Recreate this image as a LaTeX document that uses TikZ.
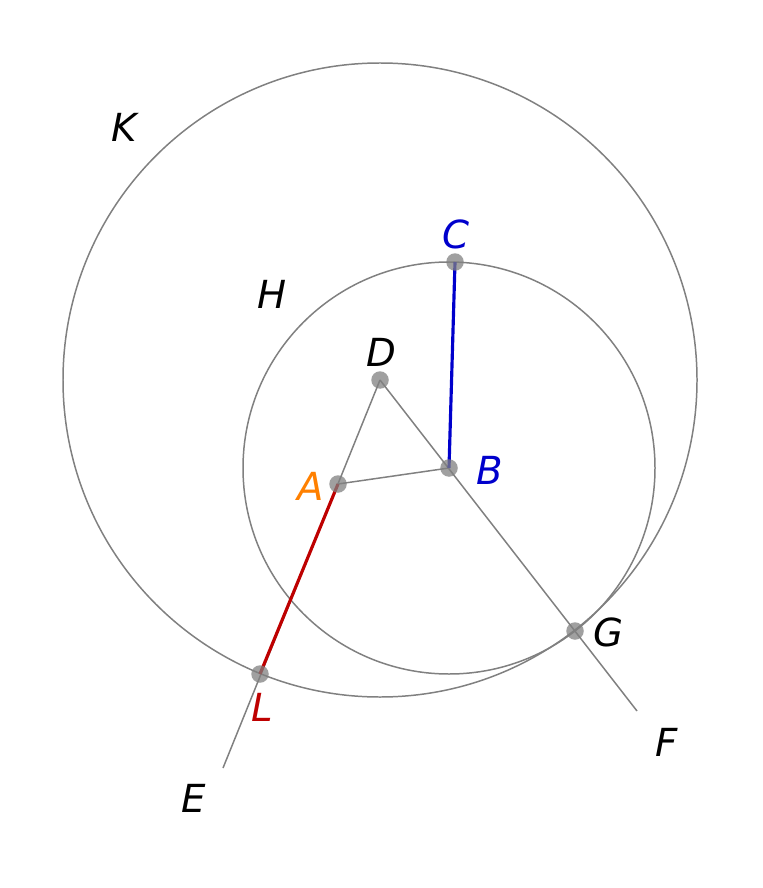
\documentclass[tikz,border=0pt]{standalone}
\usepackage{fontspec}
\setmainfont{DejaVu Sans}
\usepackage{xcolor}
\usetikzlibrary{calc}
\definecolor{lgray}{RGB}{128,128,128}
\definecolor{segblue}{RGB}{0,0,204}
\definecolor{segred}{RGB}{190,0,0}
\definecolor{lblorange}{RGB}{255,128,0}

\begin{document}
\begin{tikzpicture}[
  x=0.02cm, y=-0.02cm,
  line/.style={draw=lgray, line width=0.85pt},
  seg/.style={line width=1.8pt},
  pt/.style={circle, fill=lgray, fill opacity=0.75, inner sep=0pt, minimum size=0.35cm},
  lbl/.style={font=\fontsize{22}{26}\selectfont\itshape, inner sep=0pt},
]
  \useasboundingbox (0,0) rectangle (762,888);

  % Points
  \coordinate (D) at (380,380);
  \coordinate (A) at (338,484);
  \coordinate (B) at (449,468);
  \coordinate (C) at (455,262);
  \coordinate (G) at (575,631);
  \coordinate (L) at (260,674);
  \coordinate (E) at (223,768);
  \coordinate (F) at (637,711);

  % Circles
  \draw[line] (D) circle[radius=317];
  \draw[line] (B) circle[radius=206];

  % Lines
  \draw[line] (D) -- (E);
  \draw[line] (D) -- (F);
  \draw[line] (A) -- (B);

  % Segments
  \draw[seg, draw=segblue] (B) -- (C);
  \draw[seg, draw=segred] (A) -- (L);

  % Dots
  \foreach \p in {A,B,C,D,G,L}
    \node[pt] (dot\p) at (\p) {};

  % Labels
  \node[lbl] (lK) at (124,127) {K};
  \node[lbl] (lH) at (272,294) {H};
  \node[lbl] (lD) at (381,352) {D};
  \node[lbl, text=segblue] (lC) at (456,234) {C};
  \node[lbl, text=lblorange] (lA) at (311,486) {A};
  \node[lbl, text=segblue] (lB) at (490,470) {B};
  \node[lbl] (lG) at (608,632) {G};
  \node[lbl, text=segred] (lL) at (262,707) {L};
  \node[lbl] (lE) at (194,798) {E};
  \node[lbl] (lF) at (667,742) {F};
\end{tikzpicture}
\end{document}
